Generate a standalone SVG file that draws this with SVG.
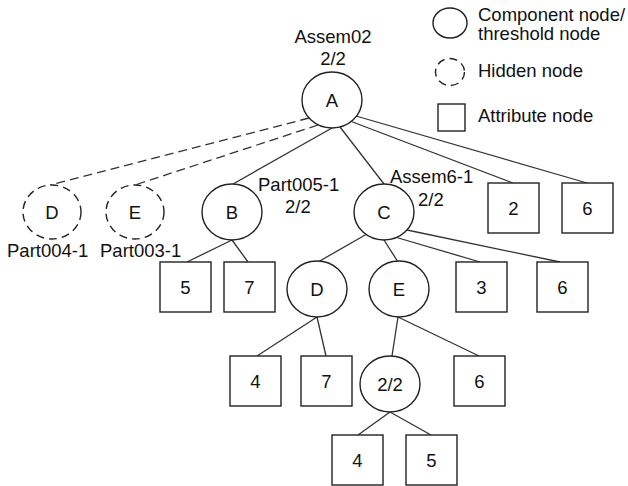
<svg xmlns="http://www.w3.org/2000/svg" width="628" height="486" viewBox="0 0 628 486">
  <style>
    text { font-family: "Liberation Sans", Arial, sans-serif; font-size: 18.5px; fill: #111; }
    .c { text-anchor: middle; }
    .node { fill: #fff; stroke: #222; stroke-width: 1.4; }
    .hidden { fill: #fff; stroke: #222; stroke-width: 1.4; stroke-dasharray: 8 5; }
    .edge { stroke: #333; stroke-width: 1.3; fill: none; }
    .edge-dash { stroke: #333; stroke-width: 1.3; fill: none; stroke-dasharray: 9 5; }
  </style>
  <rect width="628" height="486" fill="#fff"/>

  <!-- legend -->
  <g id="legend">
    <ellipse class="node" cx="450" cy="23" rx="17" ry="15"/>
    <text x="478" y="21">Component node/</text>
    <text x="478" y="40">threshold node</text>
    <ellipse class="hidden" cx="450" cy="72" rx="14.5" ry="13.5" stroke-dasharray="7 5"/>
    <text x="478" y="77">Hidden node</text>
    <rect class="node" x="438" y="104" width="27" height="27"/>
    <text x="478" y="122">Attribute node</text>
  </g>

  <!-- connectors -->
  <g id="connectors">
    <line class="edge-dash" x1="309" y1="118" x2="50" y2="185"/>
    <line class="edge-dash" x1="318" y1="125" x2="135" y2="185"/>
    <line class="edge" x1="332" y1="128" x2="233" y2="184"/>
    <line class="edge" x1="340" y1="127" x2="384" y2="184"/>
    <line class="edge" x1="350" y1="121" x2="513" y2="183"/>
    <line class="edge" x1="356" y1="116" x2="587" y2="183"/>
    <line class="edge" x1="232" y1="240" x2="187" y2="262"/>
    <line class="edge" x1="232" y1="240" x2="248" y2="262"/>
    <line class="edge" x1="366" y1="234.5" x2="318" y2="262"/>
    <line class="edge" x1="384" y1="240" x2="398" y2="262"/>
    <line class="edge" x1="395" y1="237" x2="480" y2="262"/>
    <line class="edge" x1="407" y1="230" x2="560" y2="262"/>
    <line class="edge" x1="317" y1="317" x2="257" y2="356"/>
    <line class="edge" x1="317" y1="317" x2="326" y2="356"/>
    <line class="edge" x1="398" y1="317" x2="392" y2="356"/>
    <line class="edge" x1="398" y1="317" x2="479" y2="356"/>
    <line class="edge" x1="390" y1="412" x2="358" y2="435"/>
    <line class="edge" x1="390" y1="412" x2="431" y2="435"/>
  </g>

  <!-- component / threshold nodes -->
  <g id="nodeA">
    <text class="c" x="333" y="43">Assem02</text>
    <text class="c" x="333" y="65">2/2</text>
    <ellipse class="node" cx="332" cy="100" rx="30" ry="28"/>
    <text class="c" x="332" y="106.5">A</text>
  </g>
  <g id="nodeB">
    <ellipse class="node" cx="232" cy="212" rx="30" ry="28"/>
    <text class="c" x="232" y="218.5">B</text>
    <text x="258" y="191">Part005-1</text>
    <text x="285" y="213">2/2</text>
  </g>
  <g id="nodeC">
    <ellipse class="node" cx="384" cy="212" rx="30" ry="28"/>
    <text class="c" x="384" y="218.5">C</text>
    <text x="390" y="183">Assem6-1</text>
    <text x="418" y="206">2/2</text>
  </g>
  <g id="nodeC-D">
    <ellipse class="node" cx="317" cy="289" rx="30" ry="28"/>
    <text class="c" x="317" y="295.5">D</text>
  </g>
  <g id="nodeC-E">
    <ellipse class="node" cx="399" cy="289" rx="30" ry="28"/>
    <text class="c" x="399" y="295.5">E</text>
  </g>
  <g id="nodeE-threshold">
    <ellipse class="node" cx="390" cy="384" rx="30" ry="28"/>
    <text class="c" x="390" y="390.5">2/2</text>
  </g>

  <!-- hidden nodes -->
  <g id="hiddenD">
    <ellipse class="hidden" cx="52" cy="212" rx="29" ry="27"/>
    <text class="c" x="52" y="218.5">D</text>
    <text x="7" y="257">Part004-1</text>
  </g>
  <g id="hiddenE">
    <ellipse class="hidden" cx="135" cy="212" rx="29" ry="27"/>
    <text class="c" x="135" y="218.5">E</text>
    <text x="100" y="257">Part003-1</text>
  </g>

  <!-- attribute nodes -->
  <g id="attrA-2">
    <rect class="node" x="488" y="183" width="51" height="50"/>
    <text class="c" x="513.5" y="214.5">2</text>
  </g>
  <g id="attrA-6">
    <rect class="node" x="562" y="183" width="51" height="50"/>
    <text class="c" x="587.5" y="214.5">6</text>
  </g>
  <g id="attrB-5">
    <rect class="node" x="160" y="262" width="51" height="50"/>
    <text class="c" x="185.5" y="293.5">5</text>
  </g>
  <g id="attrB-7">
    <rect class="node" x="224" y="262" width="51" height="50"/>
    <text class="c" x="249.5" y="293.5">7</text>
  </g>
  <g id="attrC-3">
    <rect class="node" x="456" y="262" width="51" height="50"/>
    <text class="c" x="481.5" y="293.5">3</text>
  </g>
  <g id="attrC-6">
    <rect class="node" x="537" y="262" width="51" height="50"/>
    <text class="c" x="562.5" y="293.5">6</text>
  </g>
  <g id="attrD-4">
    <rect class="node" x="230" y="356" width="51" height="50"/>
    <text class="c" x="255.5" y="387.5">4</text>
  </g>
  <g id="attrD-7">
    <rect class="node" x="301" y="356" width="51" height="50"/>
    <text class="c" x="326.5" y="387.5">7</text>
  </g>
  <g id="attrE-6">
    <rect class="node" x="454" y="356" width="51" height="50"/>
    <text class="c" x="479.5" y="387.5">6</text>
  </g>
  <g id="attrT-4">
    <rect class="node" x="332" y="435" width="51" height="50"/>
    <text class="c" x="357.5" y="466.5">4</text>
  </g>
  <g id="attrT-5">
    <rect class="node" x="406" y="435" width="51" height="50"/>
    <text class="c" x="431.5" y="466.5">5</text>
  </g>
</svg>
